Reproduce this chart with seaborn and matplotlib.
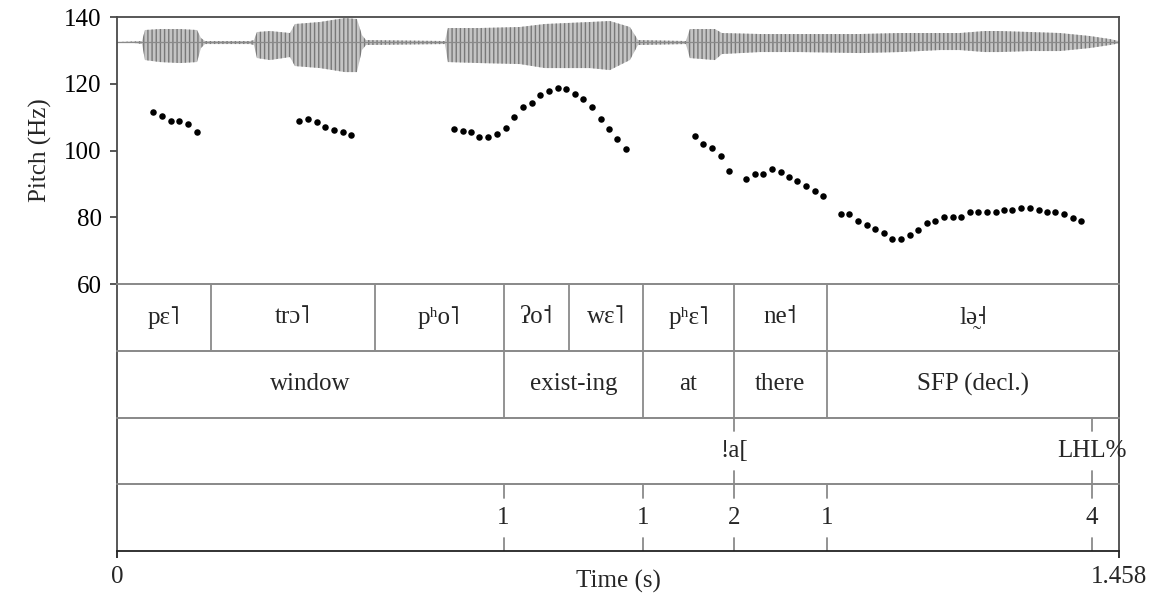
import matplotlib
matplotlib.use("Agg")
import matplotlib.pyplot as plt
import seaborn as sns
import pandas as pd

# ---------------- data ----------------
# pitch track (time in s, F0 in Hz)
pitch_time = [0.0528, 0.0655, 0.0781, 0.0906, 0.1033, 0.1159,
              0.2652, 0.2779, 0.2905, 0.3030, 0.3157, 0.3283, 0.3409,
              0.4903, 0.5029, 0.5146, 0.5271, 0.5397, 0.5525, 0.5655, 0.5780,
              0.5906, 0.6033, 0.6158, 0.6285, 0.6411, 0.6532, 0.6658, 0.6784,
              0.6910, 0.7037, 0.7162, 0.7278, 0.7402,
              0.8404, 0.8529, 0.8656, 0.8782, 0.8907,
              0.9150, 0.9277, 0.9402, 0.9529, 0.9655, 0.9772, 0.9897, 1.0023,
              1.0150, 1.0275,
              1.0528, 1.0653, 1.0780, 1.0906, 1.1031, 1.1158, 1.1279, 1.1405,
              1.1532, 1.1657, 1.1779, 1.1904, 1.2031, 1.2158, 1.2283, 1.2405,
              1.2530, 1.2656, 1.2783, 1.2904, 1.3030, 1.3155, 1.3282, 1.3409,
              1.3529, 1.3656, 1.3781, 1.3907, 1.4034]
pitch_hz = [111.4, 110.4, 108.8, 108.7, 107.8, 105.6,
            108.8, 109.3, 108.4, 107.1, 106.1, 105.4, 104.6,
            106.4, 105.7, 105.5, 104.1, 103.9, 104.8, 106.7, 109.9,
            112.9, 114.3, 116.5, 117.9, 118.6, 118.5, 117.0, 115.4,
            113.1, 109.3, 106.4, 103.3, 100.3,
            104.4, 102.0, 100.6, 98.4, 93.9,
            91.5, 92.9, 92.9, 94.4, 93.5, 92.0, 90.8, 89.4,
            87.9, 86.4,
            80.9, 80.9, 78.9, 77.7, 76.4, 75.3, 73.5, 73.6,
            74.7, 76.2, 78.4, 79.0, 80.0, 80.0, 80.2, 81.5,
            81.6, 81.6, 81.7, 82.2, 82.2, 82.9, 82.9, 82.3,
            81.6, 81.5, 81.0, 79.7, 79.0]

# waveform envelope (drawn inside the pitch panel, in Hz units)
wave_center = 132.4
wave_time = [0.0, 0.0262, 0.0364, 0.0407, 0.0626, 0.0917, 0.1164, 0.1222, 0.1280,
             0.1935, 0.1993, 0.2037, 0.2226, 0.2517, 0.2589, 0.2953, 0.3317,
             0.3491, 0.3564, 0.3622, 0.4772, 0.4815, 0.5281, 0.5863, 0.6226,
             0.6881, 0.7172, 0.7463, 0.7580, 0.8278, 0.8336, 0.8700, 0.8802,
             0.9355, 0.9936, 1.0809, 1.1391, 1.1973, 1.2264, 1.2627, 1.2846,
             1.3282, 1.3718, 1.4155, 1.4446, 1.458]
wave_hi = [132.5, 132.7, 132.8, 136.1, 136.4, 136.4, 136.1, 133.7, 132.8,
           132.8, 133.1, 135.5, 135.8, 135.2, 137.9, 138.5, 139.7,
           139.4, 134.6, 133.1, 132.8, 136.7, 136.7, 137.0, 137.9,
           138.5, 138.8, 137.0, 133.1, 132.8, 136.4, 136.4, 135.2,
           134.9, 134.9, 134.9, 135.2, 135.2, 135.2, 135.8, 135.8,
           135.5, 135.2, 134.3, 133.4, 132.8]
wave_lo = [132.4, 132.2, 131.9, 127.1, 126.5, 126.2, 126.5, 130.7, 131.9,
           131.9, 131.6, 127.7, 127.1, 128.0, 125.3, 124.7, 123.5,
           123.5, 130.1, 131.6, 131.9, 126.5, 126.2, 125.9, 124.7,
           124.7, 124.1, 127.1, 131.6, 131.9, 127.7, 127.1, 128.9,
           129.5, 129.5, 129.2, 129.5, 130.1, 130.1, 129.5, 129.5,
           129.8, 129.8, 130.7, 131.6, 132.1]

total_dur = 1.458

# tier 1: syllables
syl_bounds = [0.0, 0.1367, 0.3753, 0.5625, 0.6580, 0.7655, 0.8975, 1.0330, 1.458]
syl_labels = ["pɛ˥", "trɔ˥", "pʰo˥", "ʔo˦", "wɛ˥", "pʰɛ˥", "ne˦", "lə̰˧"]
# tier 2: glosses
word_bounds = [0.0, 0.5625, 0.7655, 0.8975, 1.0330, 1.458]
word_labels = ["window", "exist-ing", "at", "there", "SFP (decl.)"]
# tier 3: tones (point tier)
tone_times = [0.8975, 1.4185]
tone_labels = ["!a[", "LHL%"]
# tier 4: break indices (point tier)
break_times = [0.5625, 0.7655, 0.8975, 1.0330, 1.4185]
break_labels = ["1", "1", "2", "1", "4"]

# ---------------- style ----------------
sns.set_theme(style="white")
plt.rcParams['font.family'] = ['Liberation Serif', 'DejaVu Serif']
plt.rcParams['hatch.color'] = '#787878'
plt.rcParams['hatch.linewidth'] = 1.0

FS = 18
OUTER = '#4a4a4a'
INNER = '#8a8a8a'
LW = 1.3

fig = plt.figure(figsize=(11.52, 6.0), dpi=100)
L = 117 / 1152
W = (1119 - 117) / 1152


def fy(px):
    return 1 - px / 600


# ---- pitch panel ----
ax = fig.add_axes([L, fy(284), W, (284 - 17) / 600])
ax.fill_between(wave_time, wave_lo, wave_hi, facecolor='#c4c4c4',
                edgecolor='#787878', hatch='||||', linewidth=0)
ax.plot([0, total_dur], [wave_center, wave_center], color='#8a8a8a', lw=0.9)
df = pd.DataFrame({"t": pitch_time, "f0": pitch_hz})
sns.scatterplot(data=df, x="t", y="f0", ax=ax, color='black', s=22,
                linewidth=0, legend=False)
ax.set_xlim(0, total_dur)
ax.set_ylim(60, 140)
ax.set_yticks([60, 80, 100, 120, 140])
ax.set_yticklabels(["60", "80", "100", "120", "140"], fontsize=FS)
ax.set_xticks([])
ax.set_xlabel("")
ax.set_ylabel("")
ax.tick_params(axis='y', direction='out', length=5, width=LW, color=OUTER,
               pad=6, left=True, labelcolor='black')
for name, sp in ax.spines.items():
    sp.set_visible(True)
    sp.set_linewidth(LW)
    sp.set_color(OUTER if name != 'bottom' else INNER)
fig.text(40 / 1152, fy(150), "Pitch (Hz)", rotation=90, ha='center',
         va='center', fontsize=FS)

# ---- tiers ----
tier_top = 284
tier_h = 66.75
tiers = []
for i in range(4):
    top = tier_top + i * tier_h
    tax = fig.add_axes([L, fy(top + tier_h), W, tier_h / 600])
    tax.set_xlim(0, total_dur)
    tax.set_ylim(0, 1)
    tax.set_xticks([])
    tax.set_yticks([])
    tax.set_facecolor('none')
    for name, sp in tax.spines.items():
        sp.set_visible(True)
        sp.set_linewidth(LW)
        sp.set_color(OUTER if name in ('left', 'right') else INNER)
    tiers.append(tax)


def interval_tier(tax, bounds, labels):
    for b in bounds[1:-1]:
        tax.axvline(b, color=INNER, lw=LW)
    for a, b, lab in zip(bounds[:-1], bounds[1:], labels):
        tax.text((a + b) / 2, 0.5, lab, ha='center', va='center', fontsize=FS)


def point_tier(tax, times, labels):
    for t, lab in zip(times, labels):
        tax.plot([t, t], [0.8, 1.0], color=INNER, lw=LW)
        tax.plot([t, t], [0.0, 0.2], color=INNER, lw=LW)
        tax.text(t, 0.5, lab, ha='center', va='center', fontsize=FS)


interval_tier(tiers[0], syl_bounds, syl_labels)
interval_tier(tiers[1], word_bounds, word_labels)
point_tier(tiers[2], tone_times, tone_labels)
point_tier(tiers[3], break_times, break_labels)

bax = tiers[3]
bax.spines['bottom'].set_color('#222222')
bax.set_xticks([0, total_dur])
bax.set_xticklabels(["0", "1.458"], fontsize=FS)
bax.tick_params(axis='x', direction='out', length=5, width=LW, color='#222222',
                pad=6, bottom=True)
bax.text(0.5, -0.28, "Time (s)", transform=bax.transAxes, ha='center',
         va='top', fontsize=FS)

fig.savefig("out.png", dpi=100)
